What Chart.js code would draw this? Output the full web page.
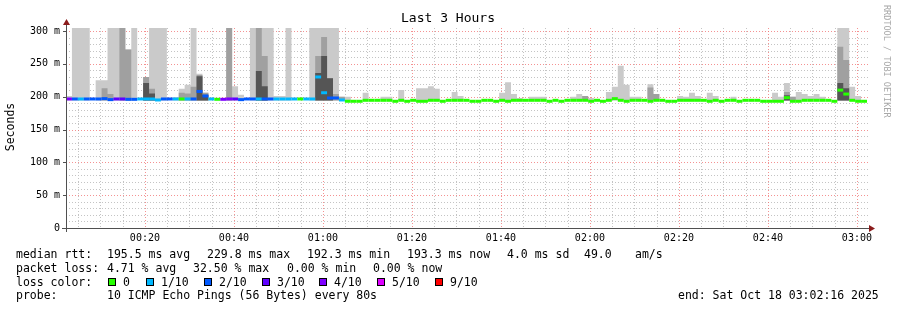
<!DOCTYPE html>
<html>
<head>
<meta charset="utf-8">
<title>Last 3 Hours</title>
<script src="https://cdn.jsdelivr.net/npm/chart.js@4.4.1/dist/chart.umd.min.js"></script>
<style>
  html, body { margin: 0; padding: 0; background: #fff; }
  canvas { display: block; }
</style>
</head>
<body>
<canvas id="chart" width="897" height="310"></canvas>
<script>
// time axis: 80 s steps starting 00:02:16, in minutes after midnight
const startMinute = 2 + 16 / 60;
const stepMinutes = 80 / 60;
const stepCount = 135;
const hourTicks = [20, 40, 60, 80, 100, 120, 140, 160, 180];

// median rtt per step (ms)
const medianMs = [
    196.5, 196.5, 196.5, 196.5, 196.5, 196.5, 197, 195.5, 196.5, 196.5,
    196, 196, 196.5, 196.5, 196.5, 195, 196.5, 196.5, 196.5, 196.5,
    196.5, 196.5, 208, 201, 196.5, 196, 196, 196.5, 196.5, 195.5,
    196.5, 196.5, 196.5, 196.5, 196.5, 196.5, 196.5, 196.5, 196.5, 196.5,
    196.5, 196.5, 230, 206, 198, 198, 195, 193, 193, 193,
    194.5, 194.5, 194.5, 194.5, 194.5, 193, 194.5, 193, 194.5, 193,
    193, 194.5, 194.5, 193, 194.5, 194.5, 194.5, 194.5, 193, 193,
    194.5, 194.5, 193, 194.5, 193, 194.5, 194.5, 194.5, 194.5, 194.5,
    194.5, 193, 194.5, 193, 194.5, 194.5, 194.5, 194.5, 193, 194.5,
    193, 194.5, 197, 194.5, 193, 194.5, 194.5, 194.5, 193, 194.5,
    194.5, 193, 193, 194.5, 194.5, 194.5, 194.5, 194.5, 193, 194.5,
    193, 194.5, 194.5, 193, 194.5, 194.5, 194.5, 193, 193, 193,
    193, 198.5, 193, 193, 194.5, 194.5, 194.5, 194.5, 194.5, 193,
    210, 204, 194.5, 193, 193
];

// lost pings out of 10 per step
const lossTenths = [
    4, 2, 1, 2, 2, 2, 2, 2, 3, 3,
    2, 2, 1, 1, 1, 1, 2, 2, 1, 0,
    1, 2, 2, 2, 1, 0, 4, 4, 3, 2,
    2, 2, 1, 2, 2, 1, 1, 1, 1, 0,
    1, 1, 1, 1, 2, 2, 1, 0, 0, 0,
    0, 0, 0, 0, 0, 0, 0, 0, 0, 0,
    0, 0, 0, 0, 0, 0, 0, 0, 0, 0,
    0, 0, 0, 0, 0, 0, 0, 0, 0, 0,
    0, 0, 0, 0, 0, 0, 0, 0, 0, 0,
    0, 0, 0, 0, 0, 0, 0, 0, 0, 0,
    0, 0, 0, 0, 0, 0, 0, 0, 0, 0,
    0, 0, 0, 0, 0, 0, 0, 0, 0, 0,
    0, 0, 0, 0, 0, 0, 0, 0, 0, 0,
    0, 0, 0, 0, 0
];

// smoke: steps with spread, and the tops of the light / mid / dark bands (ms)
const smokeStep = [0, 1, 2, 3, 5, 6, 7, 8, 9, 10, 11, 13, 14, 15, 16, 18, 19, 20, 21, 22,
    23, 27, 28, 29, 31, 32, 33, 34, 35, 36, 37, 41, 42, 43, 44, 45, 46, 47, 50, 53,
    54, 56, 59, 60, 61, 62, 65, 66, 73, 74, 75, 76, 78, 79, 80, 85, 86, 87, 88, 91,
    92, 93, 94, 95, 96, 98, 99, 103, 104, 105, 106, 108, 109, 112, 119, 120, 121, 122, 123, 124,
    125, 126, 127, 130, 131, 132, 133];
const smokeLight = [201, 320, 320, 320, 225, 225, 320, 320, 320, 272, 320, 230, 320, 320, 320, 199, 212, 218, 320, 235,
    206, 320, 216, 203, 320, 320, 320, 320, 201, 201, 320, 320, 320, 320, 320, 320, 200, 200, 206, 200,
    200, 210, 213, 213, 216, 212, 207, 201, 206, 222, 204, 198, 200, 200, 200, 200, 204, 201, 198, 207,
    215, 247, 218, 200, 200, 219, 204, 201, 200, 206, 201, 206, 201, 200, 206, 200, 221, 200, 207, 204,
    201, 204, 200, 320, 320, 215, 201];
const smokeMid = [null, null, null, null, null, 213, 204, null, 320, 272, null, 230, 212, null, null, null, 206, 205, 215, 233,
    206, 320, null, null, null, 320, 262, null, null, null, null, null, 262, 291, 228, 204, 200, null, null, null,
    null, null, null, null, null, null, null, null, null, null, null, null, null, null, null, null, null, 201, null, null,
    null, null, null, null, null, 214, 204, null, null, null, null, null, null, null, null, null, 207, 200, null, null,
    null, null, null, 276, 256, null, null];
const smokeDark = [null, null, null, null, null, null, null, null, null, null, null, 221, 205, null, null, null, null, null, null, 231,
    203, null, null, null, null, 239, 216, null, null, null, null, null, 236, 262, 228, null, null, null, null, null,
    null, null, null, null, null, null, null, null, null, null, null, null, null, null, null, null, null, null, null, null,
    null, null, null, null, null, null, null, null, null, null, null, null, null, null, null, null, 202, null, null, null,
    null, null, null, 221, 213, null, null];

const lossColors = {0: '#26ff00', 1: '#00b8ff', 2: '#0059ff', 3: '#5e00ff', 4: '#7e00ff', 5: '#dd00ff', 9: '#ff0000'};
const legendLoss = [[0, '0'], [1, '1/10'], [2, '2/10'], [3, '3/10'], [4, '4/10'], [5, '5/10'], [9, '9/10']];

const smokeBase = 194;
const endMinute = startMinute + stepCount * stepMinutes;
const mono = "'DejaVu Sans Mono', monospace";

function stepX(k) {
    return startMinute + k * stepMinutes;
}

function smokeSeries(tops) {
    let pts = [];
    for (let k = 0; k < stepCount; k++) {
        let i = smokeStep.indexOf(k);
        let v = (i >= 0 && tops[i] != null) ? tops[i] : smokeBase;
        pts.push({x: stepX(k), y: v});
    }
    pts.push({x: endMinute, y: smokeBase});
    return pts;
}

// median drawn as separate flat pieces, one per step (no vertical joins)
let medianPts = [];
medianMs.forEach(function (v, k) {
    medianPts.push({x: stepX(k), y: v});
    medianPts.push({x: stepX(k + 1), y: v});
    medianPts.push({x: stepX(k + 1), y: null});
});

function pad2(n) {
    return (n < 10 ? '0' : '') + n;
}

const rrdLook = {
    id: 'rrdLook',
    beforeDraw(chart) {
        let ctx = chart.ctx;
        ctx.save();
        ctx.fillStyle = '#ffffff';
        ctx.fillRect(0, 0, chart.width, chart.height);
        ctx.restore();
    },
    beforeDatasetsDraw(chart) {
        let ctx = chart.ctx;
        let a = chart.chartArea;
        let xs = chart.scales.x;
        let ys = chart.scales.y;
        ctx.save();
        ctx.lineWidth = 1;
        ctx.setLineDash([1, 2]);
        // minor grid first, major grid on top
        for (let pass = 0; pass < 2; pass++) {
            for (let m = 5; m < endMinute; m += 5) {
                let major = m % 20 === 0;
                if (major !== (pass === 1) || m < startMinute) continue;
                let px = Math.round(xs.getPixelForValue(m)) + 0.5;
                ctx.strokeStyle = major ? 'rgba(240,110,110,0.75)' : '#c4c4c4';
                ctx.beginPath();
                ctx.moveTo(px, a.top);
                ctx.lineTo(px, a.bottom);
                ctx.stroke();
            }
            for (let v = 10; v <= 300; v += 10) {
                let major = v % 50 === 0;
                if (major !== (pass === 1)) continue;
                let py = Math.round(ys.getPixelForValue(v)) + 0.5;
                ctx.strokeStyle = major ? 'rgba(240,110,110,0.75)' : '#c4c4c4';
                ctx.beginPath();
                ctx.moveTo(a.left, py);
                ctx.lineTo(a.right + 2, py);
                ctx.stroke();
            }
        }
        ctx.restore();
    },
    afterDatasetsDraw(chart) {
        let ctx = chart.ctx;
        let a = chart.chartArea;
        let ys = chart.scales.y;
        let y0 = Math.round(ys.getPixelForValue(0));
        ctx.save();
        ctx.fillStyle = '#505050';
        ctx.fillRect(a.left - 4, y0, a.right - a.left + 7, 1);
        ctx.fillRect(a.left, a.top - 6, 1, y0 - a.top + 10);
        for (let v = 50; v <= 300; v += 50) {
            let py = Math.round(ys.getPixelForValue(v));
            ctx.fillRect(a.left - 3, py, 3, 1);
        }
        ctx.fillStyle = '#8b1c1c';
        ctx.beginPath();
        ctx.moveTo(a.left + 0.5, a.top - 9);
        ctx.lineTo(a.left - 3, a.top - 3);
        ctx.lineTo(a.left + 4, a.top - 3);
        ctx.closePath();
        ctx.fill();
        ctx.beginPath();
        ctx.moveTo(a.right + 8, y0 + 0.5);
        ctx.lineTo(a.right + 2, y0 - 3);
        ctx.lineTo(a.right + 2, y0 + 4);
        ctx.closePath();
        ctx.fill();
        ctx.restore();
    },
    afterDraw(chart) {
        let ctx = chart.ctx;
        ctx.save();
        ctx.fillStyle = '#000';
        ctx.textBaseline = 'middle';
        ctx.textAlign = 'center';
        ctx.font = '13px ' + mono;
        ctx.fillText('Last 3 Hours', 448, 19);

        ctx.save();
        ctx.translate(11, 127);
        ctx.rotate(-Math.PI / 2);
        ctx.font = '11.5px ' + mono;
        ctx.fillText('Seconds', 0, 0);
        ctx.restore();

        ctx.save();
        ctx.translate(886, 5);
        ctx.rotate(Math.PI / 2);
        ctx.textAlign = 'left';
        ctx.fillStyle = '#a8a8a8';
        ctx.font = '8.5px ' + mono;
        ctx.fillText('RRDTOOL / TOBI OETIKER', 0, 0);
        ctx.restore();

        ctx.textAlign = 'left';
        ctx.textBaseline = 'alphabetic';
        ctx.font = '11.5px ' + mono;
        let rows = [
            [258, [[16, 'median rtt:'], [107, '195.5 ms avg'], [207, '229.8 ms max'], [307, '192.3 ms min'],
                   [407, '193.3 ms now'], [507, '4.0 ms sd'], [584, '49.0'], [635, 'am/s']]],
            [271.5, [[16, 'packet loss:'], [107, '4.71 % avg'], [193, '32.50 % max'], [287, '0.00 % min'],
                     [373, '0.00 % now']]],
            [285.5, [[16, 'loss color:']]],
            [299, [[16, 'probe:'], [107, '10 ICMP Echo Pings (56 Bytes) every 80s'],
                   [678, 'end: Sat Oct 18 03:02:16 2025']]]
        ];
        rows.forEach(function (row) {
            row[1].forEach(function (item) {
                ctx.fillText(item[1], item[0], row[0]);
            });
        });
        let boxX = [108, 146, 204, 262, 319, 377, 435];
        legendLoss.forEach(function (entry, i) {
            ctx.fillStyle = lossColors[entry[0]];
            ctx.fillRect(boxX[i], 278, 8, 8);
            ctx.strokeStyle = '#000';
            ctx.lineWidth = 1;
            ctx.strokeRect(boxX[i] + 0.5, 278.5, 7, 7);
            ctx.fillStyle = '#000';
            ctx.fillText(entry[1], boxX[i] + 15, 285.5);
        });
        ctx.restore();
    }
};

function smokeDataset(label, tops, color, order) {
    return {
        label: label,
        data: smokeSeries(tops),
        stepped: true,
        borderWidth: 0,
        borderColor: 'rgba(0,0,0,0)',
        backgroundColor: color,
        fill: {value: smokeBase},
        pointRadius: 0,
        order: order
    };
}

let chart = new Chart(document.getElementById('chart'), {
    type: 'line',
    data: {
        datasets: [
            smokeDataset('smoke light', smokeLight, '#cacaca', 3),
            smokeDataset('smoke mid', smokeMid, '#a0a0a0', 2),
            smokeDataset('smoke dark', smokeDark, '#555555', 1),
            {
                label: 'median rtt',
                data: medianPts,
                spanGaps: false,
                borderWidth: 3,
                borderCapStyle: 'butt',
                borderColor: '#26ff00',
                segment: {
                    borderColor: ctx => lossColors[lossTenths[Math.floor(ctx.p0DataIndex / 3)]]
                },
                fill: false,
                pointRadius: 0,
                order: 0
            }
        ]
    },
    options: {
        responsive: false,
        animation: false,
        devicePixelRatio: 1,
        layout: {
            padding: {left: 26, right: 30, top: 28, bottom: 62}
        },
        plugins: {
            legend: {display: false},
            tooltip: {enabled: false},
            title: {display: false}
        },
        scales: {
            x: {
                type: 'linear',
                min: startMinute,
                max: endMinute,
                grid: {display: false, drawTicks: false},
                border: {display: false},
                afterBuildTicks: s => { s.ticks = hourTicks.map(v => ({value: v})); },
                ticks: {
                    autoSkip: false,
                    maxRotation: 0,
                    padding: 4,
                    color: '#000',
                    font: {family: mono, size: 10},
                    callback: v => pad2(Math.floor(v / 60)) + ':' + pad2(Math.round(v % 60))
                },
                afterFit: s => { s.height = 20; }
            },
            y: {
                min: 0,
                max: 304.6,
                grid: {display: false, drawTicks: false},
                border: {display: false},
                ticks: {
                    stepSize: 50,
                    includeBounds: false,
                    padding: 6,
                    color: '#000',
                    font: {family: mono, size: 10},
                    callback: v => v === 0 ? '0' : v + ' m'
                },
                afterFit: s => { s.width = 40; }
            }
        }
    },
    plugins: [rrdLook]
});
</script>
</body>
</html>
